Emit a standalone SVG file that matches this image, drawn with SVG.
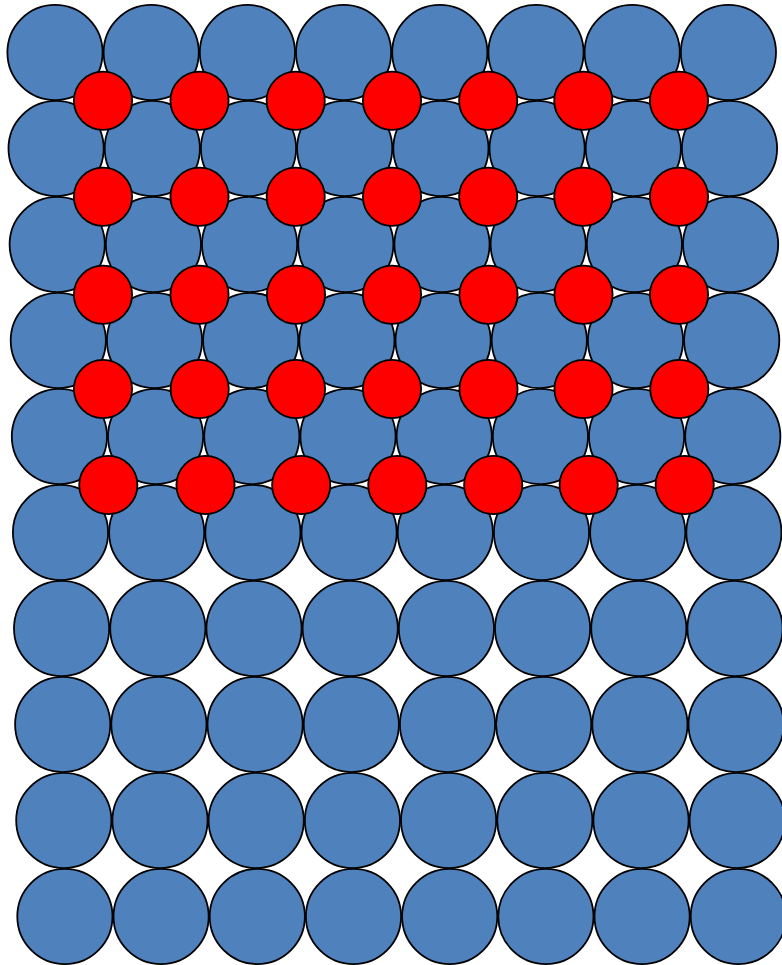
<svg xmlns="http://www.w3.org/2000/svg" width="782" height="965" viewBox="0 0 782 965">
<style>
.b{fill:#4F81BD;stroke:#000;stroke-width:1.8}
.r{fill:#FF0000;stroke:#000;stroke-width:1.8}
</style>
<rect width="782" height="965" fill="#fff"/>
<g id="blue">
<g id="brow1"><circle class="b" cx="55" cy="52.5" r="47.6"/><circle class="b" cx="151.2" cy="52.5" r="47.6"/><circle class="b" cx="247.4" cy="52.5" r="47.6"/><circle class="b" cx="343.6" cy="52.5" r="47.6"/><circle class="b" cx="439.8" cy="52.5" r="47.6"/><circle class="b" cx="536" cy="52.5" r="47.6"/><circle class="b" cx="632.2" cy="52.5" r="47.6"/><circle class="b" cx="728.4" cy="52.5" r="47.6"/></g>
<g id="brow2"><circle class="b" cx="56.1" cy="148.5" r="47.6"/><circle class="b" cx="152.3" cy="148.5" r="47.6"/><circle class="b" cx="248.5" cy="148.5" r="47.6"/><circle class="b" cx="344.7" cy="148.5" r="47.6"/><circle class="b" cx="440.9" cy="148.5" r="47.6"/><circle class="b" cx="537.1" cy="148.5" r="47.6"/><circle class="b" cx="633.3" cy="148.5" r="47.6"/><circle class="b" cx="729.5" cy="148.5" r="47.6"/></g>
<g id="brow3"><circle class="b" cx="57.2" cy="244.5" r="47.6"/><circle class="b" cx="153.4" cy="244.5" r="47.6"/><circle class="b" cx="249.6" cy="244.5" r="47.6"/><circle class="b" cx="345.8" cy="244.5" r="47.6"/><circle class="b" cx="442" cy="244.5" r="47.6"/><circle class="b" cx="538.2" cy="244.5" r="47.6"/><circle class="b" cx="634.4" cy="244.5" r="47.6"/><circle class="b" cx="730.6" cy="244.5" r="47.6"/></g>
<g id="brow4"><circle class="b" cx="58.3" cy="340.5" r="47.6"/><circle class="b" cx="154.5" cy="340.5" r="47.6"/><circle class="b" cx="250.7" cy="340.5" r="47.6"/><circle class="b" cx="346.9" cy="340.5" r="47.6"/><circle class="b" cx="443.1" cy="340.5" r="47.6"/><circle class="b" cx="539.3" cy="340.5" r="47.6"/><circle class="b" cx="635.5" cy="340.5" r="47.6"/><circle class="b" cx="731.7" cy="340.5" r="47.6"/></g>
<g id="brow5"><circle class="b" cx="59.4" cy="436.5" r="47.6"/><circle class="b" cx="155.6" cy="436.5" r="47.6"/><circle class="b" cx="251.8" cy="436.5" r="47.6"/><circle class="b" cx="348" cy="436.5" r="47.6"/><circle class="b" cx="444.2" cy="436.5" r="47.6"/><circle class="b" cx="540.4" cy="436.5" r="47.6"/><circle class="b" cx="636.6" cy="436.5" r="47.6"/><circle class="b" cx="732.8" cy="436.5" r="47.6"/></g>
<g id="brow6"><circle class="b" cx="60.5" cy="532.5" r="47.6"/><circle class="b" cx="156.7" cy="532.5" r="47.6"/><circle class="b" cx="252.9" cy="532.5" r="47.6"/><circle class="b" cx="349.1" cy="532.5" r="47.6"/><circle class="b" cx="445.3" cy="532.5" r="47.6"/><circle class="b" cx="541.5" cy="532.5" r="47.6"/><circle class="b" cx="637.7" cy="532.5" r="47.6"/><circle class="b" cx="733.9" cy="532.5" r="47.6"/></g>
<g id="brow7"><circle class="b" cx="61.6" cy="628.5" r="47.6"/><circle class="b" cx="157.8" cy="628.5" r="47.6"/><circle class="b" cx="254" cy="628.5" r="47.6"/><circle class="b" cx="350.2" cy="628.5" r="47.6"/><circle class="b" cx="446.4" cy="628.5" r="47.6"/><circle class="b" cx="542.6" cy="628.5" r="47.6"/><circle class="b" cx="638.8" cy="628.5" r="47.6"/><circle class="b" cx="735" cy="628.5" r="47.6"/></g>
<g id="brow8"><circle class="b" cx="62.7" cy="724.5" r="47.6"/><circle class="b" cx="158.9" cy="724.5" r="47.6"/><circle class="b" cx="255.1" cy="724.5" r="47.6"/><circle class="b" cx="351.3" cy="724.5" r="47.6"/><circle class="b" cx="447.5" cy="724.5" r="47.6"/><circle class="b" cx="543.7" cy="724.5" r="47.6"/><circle class="b" cx="639.9" cy="724.5" r="47.6"/><circle class="b" cx="736.1" cy="724.5" r="47.6"/></g>
<g id="brow9"><circle class="b" cx="63.8" cy="820.5" r="47.6"/><circle class="b" cx="160" cy="820.5" r="47.6"/><circle class="b" cx="256.2" cy="820.5" r="47.6"/><circle class="b" cx="352.4" cy="820.5" r="47.6"/><circle class="b" cx="448.6" cy="820.5" r="47.6"/><circle class="b" cx="544.8" cy="820.5" r="47.6"/><circle class="b" cx="641" cy="820.5" r="47.6"/><circle class="b" cx="737.2" cy="820.5" r="47.6"/></g>
<g id="brow10"><circle class="b" cx="64.9" cy="916.5" r="47.6"/><circle class="b" cx="161.1" cy="916.5" r="47.6"/><circle class="b" cx="257.3" cy="916.5" r="47.6"/><circle class="b" cx="353.5" cy="916.5" r="47.6"/><circle class="b" cx="449.7" cy="916.5" r="47.6"/><circle class="b" cx="545.9" cy="916.5" r="47.6"/><circle class="b" cx="642.1" cy="916.5" r="47.6"/><circle class="b" cx="738.3" cy="916.5" r="47.6"/></g>
</g>
<g id="red">
<g id="rrow1"><circle class="r" cx="103" cy="100.7" r="29.1"/><circle class="r" cx="199.5" cy="100.7" r="29.1"/><circle class="r" cx="295.7" cy="100.7" r="29.1"/><circle class="r" cx="392" cy="100.7" r="29.1"/><circle class="r" cx="488.2" cy="100.7" r="29.1"/><circle class="r" cx="583.3" cy="100.7" r="29.1"/><circle class="r" cx="679" cy="100.7" r="29.1"/></g>
<g id="rrow2"><circle class="r" cx="103" cy="196.7" r="29.1"/><circle class="r" cx="199.5" cy="196.7" r="29.1"/><circle class="r" cx="295.7" cy="196.7" r="29.1"/><circle class="r" cx="392" cy="196.7" r="29.1"/><circle class="r" cx="488.2" cy="196.7" r="29.1"/><circle class="r" cx="583.3" cy="196.7" r="29.1"/><circle class="r" cx="679" cy="196.7" r="29.1"/></g>
<g id="rrow3"><circle class="r" cx="103" cy="294.7" r="29.1"/><circle class="r" cx="199.5" cy="294.7" r="29.1"/><circle class="r" cx="296" cy="294.7" r="29.1"/><circle class="r" cx="392" cy="294.7" r="29.1"/><circle class="r" cx="488.5" cy="294.7" r="29.1"/><circle class="r" cx="583.5" cy="294.7" r="29.1"/><circle class="r" cx="679" cy="294.7" r="29.1"/></g>
<g id="rrow4"><circle class="r" cx="103" cy="389" r="29.1"/><circle class="r" cx="199.7" cy="389" r="29.1"/><circle class="r" cx="296" cy="389" r="29.1"/><circle class="r" cx="392" cy="389" r="29.1"/><circle class="r" cx="488.5" cy="389" r="29.1"/><circle class="r" cx="583.5" cy="389" r="29.1"/><circle class="r" cx="679.3" cy="389" r="29.1"/></g>
<g id="rrow5"><circle class="r" cx="108.3" cy="485" r="29.1"/><circle class="r" cx="205.5" cy="485" r="29.1"/><circle class="r" cx="301.2" cy="485" r="29.1"/><circle class="r" cx="397.3" cy="485" r="29.1"/><circle class="r" cx="493.2" cy="485" r="29.1"/><circle class="r" cx="588.7" cy="485" r="29.1"/><circle class="r" cx="684.7" cy="485" r="29.1"/></g>
</g>
</svg>
